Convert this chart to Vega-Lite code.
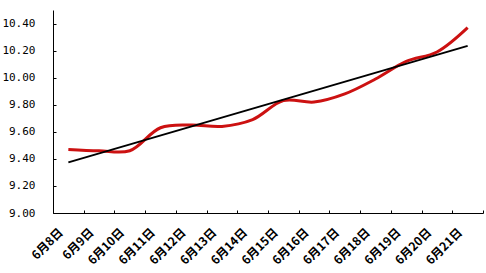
{
  "$schema": "https://vega.github.io/schema/vega-lite/v6.json",
  "autosize": "none",
  "padding": {"left": 53, "top": 10, "right": 3, "bottom": 60},
  "width": 430,
  "height": 203,
  "config": {"view": {"stroke": null}},
  "encoding": {
    "x": {
      "field": "date", "type": "nominal",
      "scale": {"type": "band", "paddingInner": 0, "paddingOuter": 0,
        "domain": ["6月8日","6月9日","6月10日","6月11日","6月12日","6月13日","6月14日","6月15日","6月16日","6月17日","6月18日","6月19日","6月20日","6月21日"]},
      "axis": {
        "title": null, "tickBand": "extent", "tickSize": -3, "tickColor": "#000", "domainColor": "#000", "domainWidth": 1,
        "labelAngle": -45, "labelAlign": "right", "labelBaseline": "middle", "labelPadding": 20, "labelOffset": -8,
        "labelFont": "Noto Sans CJK SC", "labelFontWeight": "bold", "labelFontSize": 12, "labelColor": "#000",
        "grid": false
      }
    },
    "y": {
      "field": "v", "type": "quantitative",
      "scale": {"domain": [9, 10.5], "nice": false, "zero": false},
      "axis": {
        "title": null, "values": [9, 9.2, 9.4, 9.6, 9.8, 10, 10.2, 10.4], "format": ".2f",
        "tickSize": -3, "tickColor": "#000", "domainColor": "#000", "domainWidth": 1, "labelPadding": 21,
        "labelFont": "DejaVu Sans Mono", "labelFontSize": 11, "labelColor": "#000", "grid": false
      }
    }
  },
  "layer": [
    {
      "data": {"values": [
        {"date": "6月8日", "v": 9.47},
        {"date": "6月9日", "v": 9.46},
        {"date": "6月10日", "v": 9.46},
        {"date": "6月11日", "v": 9.63},
        {"date": "6月12日", "v": 9.65},
        {"date": "6月13日", "v": 9.64},
        {"date": "6月14日", "v": 9.69},
        {"date": "6月15日", "v": 9.83},
        {"date": "6月16日", "v": 9.82},
        {"date": "6月17日", "v": 9.88},
        {"date": "6月18日", "v": 9.99},
        {"date": "6月19日", "v": 10.12},
        {"date": "6月20日", "v": 10.19},
        {"date": "6月21日", "v": 10.37}
      ]},
      "mark": {"type": "line", "color": "#cc1111", "strokeWidth": 3, "interpolate": "catmull-rom"}
    },
    {
      "data": {"values": [
        {"date": "6月8日", "v": 9.374},
        {"date": "6月21日", "v": 10.235}
      ]},
      "mark": {"type": "line", "color": "#000000", "strokeWidth": 2}
    }
  ]
}
